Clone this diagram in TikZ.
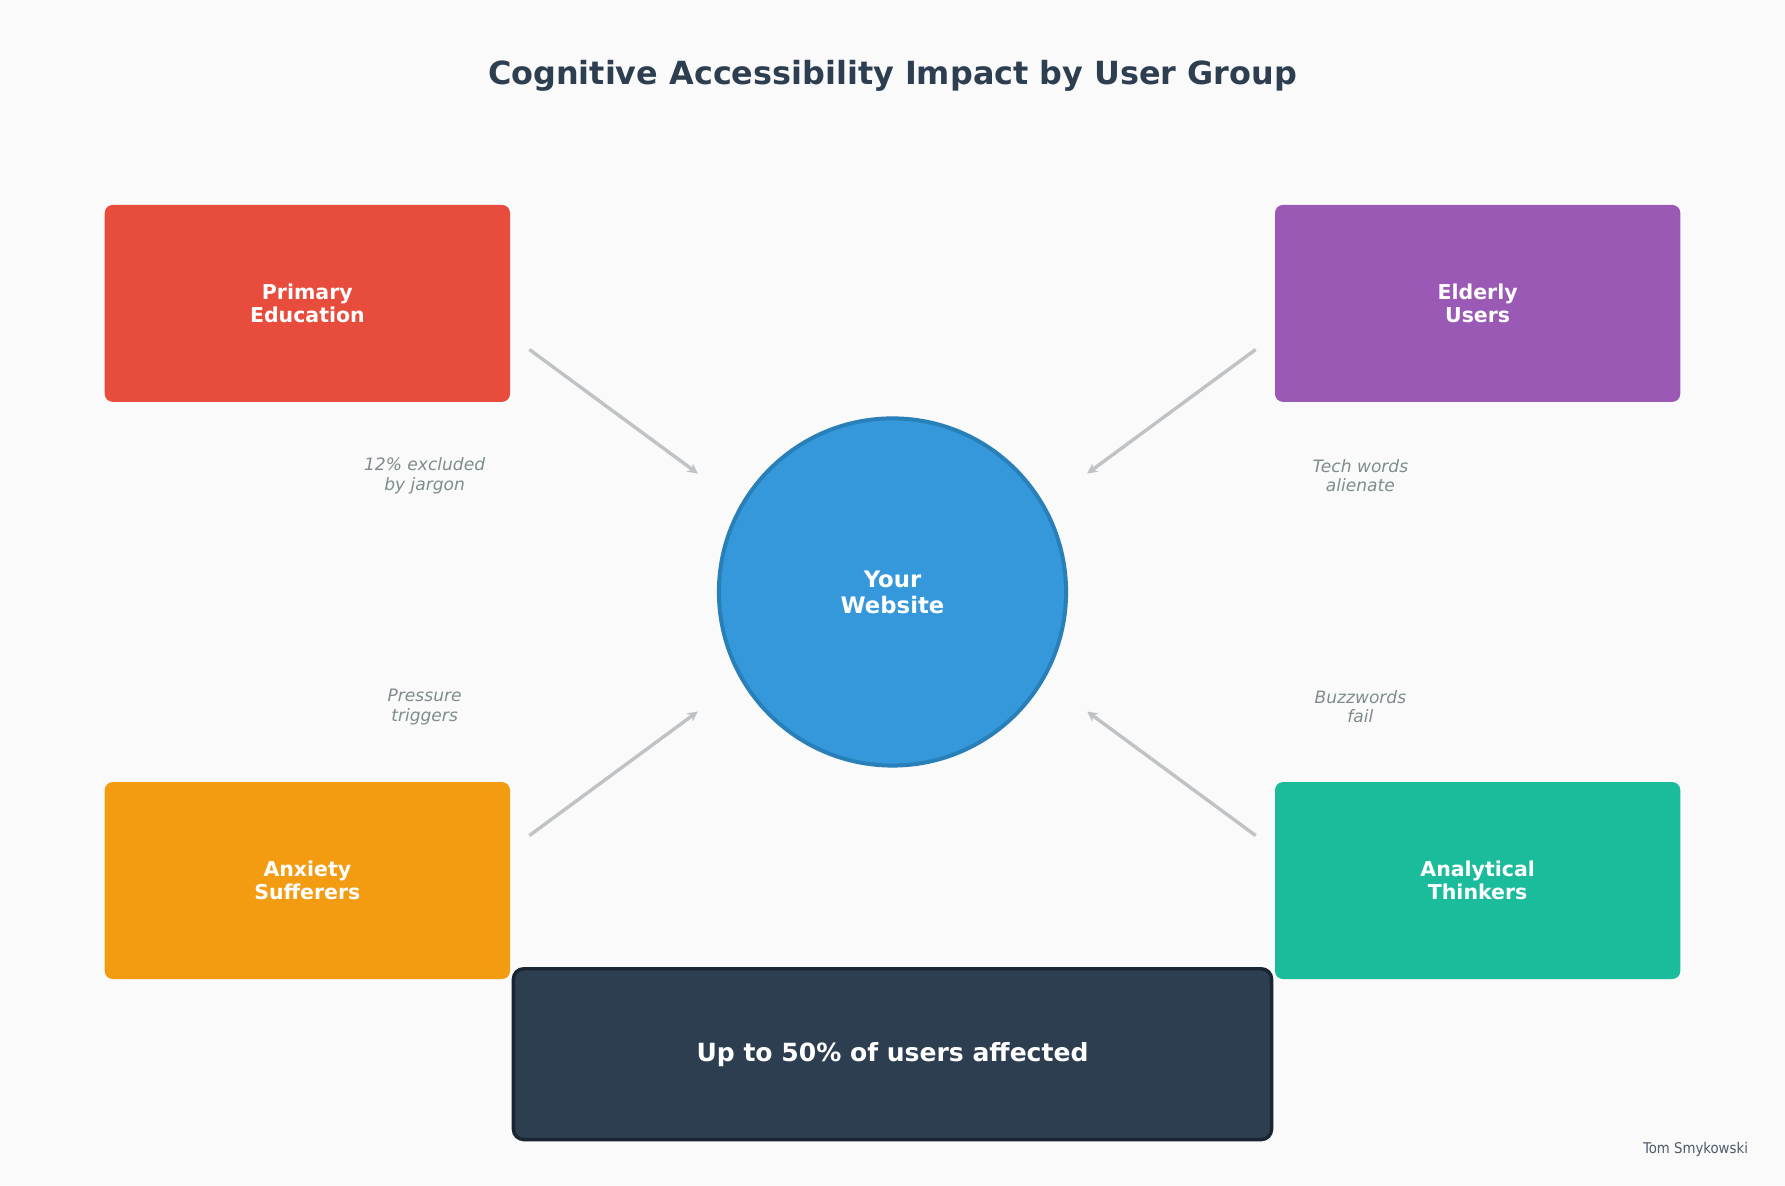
\documentclass[tikz,border=0pt]{standalone}
\usepackage{fontspec}
\setmainfont{DejaVu Sans}
\newfontfamily\condf{DejaVu Sans Condensed}
\usetikzlibrary{arrows.meta}
\definecolor{bg}{HTML}{FAFAFA}
\definecolor{ttl}{HTML}{2C3E50}
\definecolor{cred}{HTML}{E74C3C}
\definecolor{cpur}{HTML}{9B59B6}
\definecolor{corg}{HTML}{F39C12}
\definecolor{cteal}{HTML}{1ABC9C}
\definecolor{cblue}{HTML}{3498DB}
\definecolor{cblueb}{HTML}{2980B9}
\definecolor{darkb}{HTML}{1A2533}
\definecolor{arr}{HTML}{C0C3C6}
\definecolor{lab}{HTML}{7F8C8D}
\begin{document}
\begin{tikzpicture}[x=1pt,y=-1pt,
 grp/.style={rounded corners=7pt,minimum width=356pt,minimum height=173pt,text=white,align=center,font=\fontsize{18}{20}\selectfont\bfseries,inner sep=0pt},
 con/.style={draw=arr,line width=3pt,-{Stealth[length=9pt,width=9pt]}},
 lbl/.style={text=lab,align=center,font=\fontsize{15}{17}\selectfont\itshape}]
\fill[bg] (0,0) rectangle (1568,1041);
\node[text=ttl,font=\fontsize{28}{32}\selectfont\bfseries] (title) at (784,67) {Cognitive Accessibility Impact by User Group};
\node[grp,fill=cred] (pe) at (270,266.5) {Primary\\Education};
\node[grp,fill=cpur] (eu) at (1298,266.5) {Elderly\\Users};
\node[grp,fill=corg] (as) at (270,773.5) {Anxiety\\Sufferers};
\node[grp,fill=cteal] (at) at (1298,773.5) {Analytical\\Thinkers};
\node[circle,fill=cblue,draw=cblueb,line width=3.5pt,minimum size=305pt,text=white,align=center,font=\fontsize{20}{23}\selectfont\bfseries] (web) at (784,520) {Your\\Website};
\node[draw=darkb,line width=3pt,fill=ttl,rounded corners=9pt,minimum width=666pt,minimum height=150pt,text=white,font=\fontsize{22}{26}\selectfont\bfseries] (sum) at (784,926) {Up to 50\% of users affected};
\coordinate (a1) at (465,307); \coordinate (b1) at (613,416);
\coordinate (a2) at (1103,307); \coordinate (b2) at (955,416);
\coordinate (a3) at (465,734); \coordinate (b3) at (613,625);
\coordinate (a4) at (1103,734); \coordinate (b4) at (955,625);
\draw[con] (a1) -- (b1);
\draw[con] (a2) -- (b2);
\draw[con] (a3) -- (b3);
\draw[con] (a4) -- (b4);
\node[lbl] (l1) at (373,418) {12\% excluded\\by jargon};
\node[lbl] (l2) at (1195,418) {Tech words\\alienate};
\node[lbl] (l3) at (373,621) {Pressure\\triggers};
\node[lbl] (l4) at (1195,621) {Buzzwords\\fail};
\node[text=ttl!85,font=\condf\fontsize{13}{15}\selectfont,anchor=east] (auth) at (1539,1010) {Tom Smykowski};
\end{tikzpicture}
\end{document}
